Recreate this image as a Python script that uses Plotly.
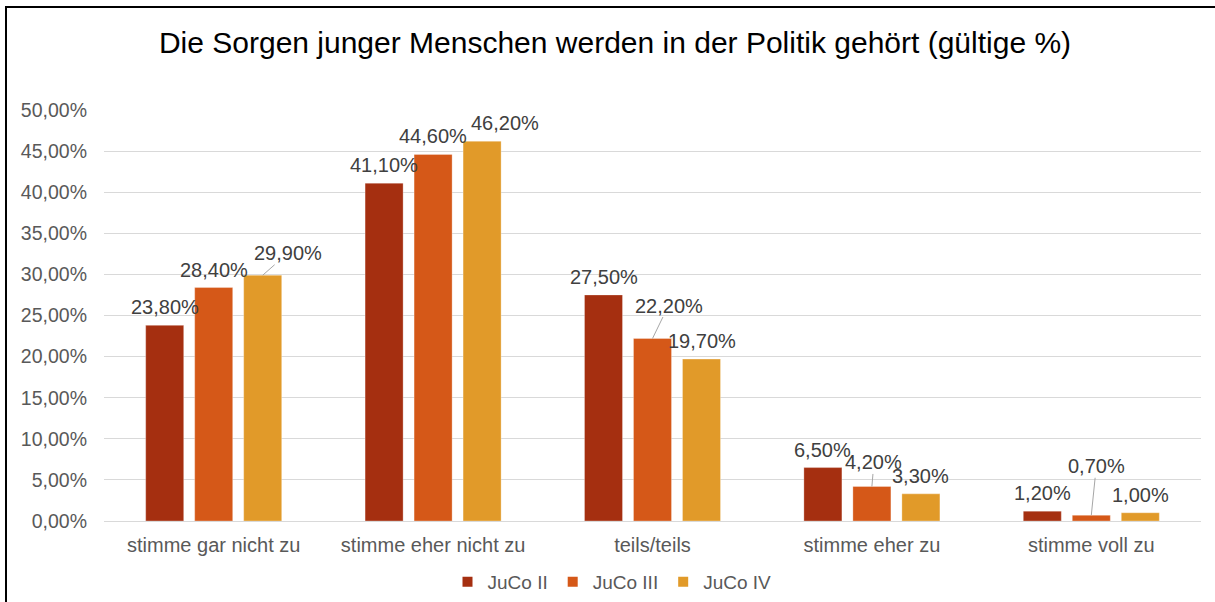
import plotly.graph_objects as go

categories = ["stimme gar nicht zu", "stimme eher nicht zu", "teils/teils", "stimme eher zu", "stimme voll zu"]
series_names = ["JuCo II", "JuCo III", "JuCo IV"]
juco2 = [23.8, 41.1, 27.5, 6.5, 1.2]
juco3 = [28.4, 44.6, 22.2, 4.2, 0.7]
juco4 = [29.9, 46.2, 19.7, 3.3, 1.0]
y_ticks = [0, 5, 10, 15, 20, 25, 30, 35, 40, 45, 50]

series_values = [juco2, juco3, juco4]
colors = ["#A52F10", "#D55818", "#E19A29"]

# label offsets (px) for labels moved away from their bars: (series, category) -> (ax, ay, leader)
label_offsets = {
    (2, 0): (25, -22, True),
    (2, 1): (23, -18, False),
    (1, 2): (16, -33, True),
    (1, 3): (2, -24, True),
    (1, 4): (5, -49, True),
}

W, H = 1215, 602
L, R, T, B = 104, 14, 110, 81
BARGAP = 0.33
GROUPGAP = 0.224
FONT = "Liberation Sans, Arial, sans-serif"

def fmt(v):
    return f"{v:.2f}".replace(".", ",") + "%"

fig = go.Figure()
for name, vals, col in zip(series_names, series_values, colors):
    fig.add_trace(go.Bar(
        name=name, x=categories, y=vals, showlegend=False,
        marker=dict(color=col, line=dict(color="rgba(255,255,255,0.6)", width=0.5)),
    ))
# legend entries with small square swatches
for name, col in zip(series_names, colors):
    fig.add_trace(go.Scatter(
        name=name, x=[None], y=[None], mode="markers",
        marker=dict(symbol="square", size=10, color=col),
    ))

slot = (1 - BARGAP) / len(series_names)
annotations = []
for s, vals in enumerate(series_values):
    for c, v in enumerate(vals):
        xc = c + (s - (len(series_names) - 1) / 2) * slot
        if (s, c) in label_offsets:
            ax, ay, leader = label_offsets[(s, c)]
            if leader:
                annotations.append(dict(
                    x=xc, y=v, xref="x", yref="y", text=fmt(v), showarrow=True,
                    ax=ax, ay=ay, arrowhead=0, arrowwidth=1, arrowcolor="#a6a6a6",
                    standoff=0, font=dict(family=FONT, size=20, color="#404040"),
                    borderpad=0,
                ))
            else:
                annotations.append(dict(
                    x=xc, y=v, xref="x", yref="y", text=fmt(v), showarrow=False,
                    xshift=ax, yshift=-ay, yanchor="middle",
                    font=dict(family=FONT, size=20, color="#404040"),
                ))
        else:
            annotations.append(dict(
                x=xc, y=v, xref="x", yref="y", text=fmt(v), showarrow=False,
                yshift=18, yanchor="middle",
                font=dict(family=FONT, size=20, color="#404040"),
            ))

pw = W - L - R
ph = H - T - B
def px_to_paper_x(px):
    return (px - L) / pw
def px_to_paper_y(py):
    return (H - B - py) / ph

x0 = px_to_paper_x(6)
y0 = px_to_paper_y(7)
ybot = px_to_paper_y(H + 5)
xright = px_to_paper_x(W + 5)

fig.add_shape(type="path", xref="paper", yref="paper",
              path=f"M {x0} {ybot} L {x0} {y0} L {xright} {y0}",
              line=dict(color="black", width=2))

fig.update_layout(
    width=W, height=H,
    margin=dict(l=L, r=R, t=T, b=B, autoexpand=False),
    paper_bgcolor="white", plot_bgcolor="white",
    barmode="group", bargap=BARGAP, bargroupgap=GROUPGAP,
    title=dict(text="Die Sorgen junger Menschen werden in der Politik gehört (gültige %)",
               x=615 / W, xanchor="center", xref="container", y=1 - 42 / H, yanchor="middle",
               font=dict(family=FONT, size=30, color="black")),
    font=dict(family=FONT, color="#595959"),
    legend=dict(orientation="h", x=612 / W, xanchor="center", xref="container",
                y=1 - 582 / H, yanchor="middle", yref="container", itemwidth=30,
                font=dict(family=FONT, size=19, color="#595959"), traceorder="normal"),
    annotations=annotations,
    xaxis=dict(showgrid=False, showline=False, ticks="", tickfont=dict(size=20, color="#595959"),
               ticklabelstandoff=10, automargin=False),
    yaxis=dict(range=[0, 50], tickvals=y_ticks, ticktext=[fmt(t) for t in y_ticks],
               showgrid=True, gridcolor="#d9d9d9", gridwidth=1,
               zeroline=True, zerolinecolor="#d9d9d9", zerolinewidth=1,
               tickfont=dict(size=19.5, color="#595959"), ticklabelstandoff=16, automargin=False),
)

fig.write_html("out.html", config={"displayModeBar": False},
               post_script="document.body.style.margin='0';document.body.style.overflow='hidden';")
